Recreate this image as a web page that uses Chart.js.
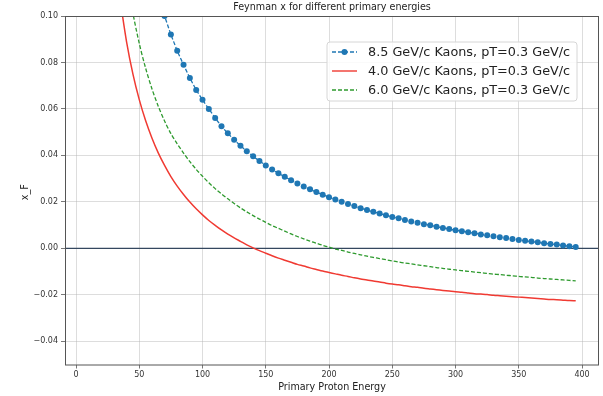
<!DOCTYPE html>
<html>
<head>
<meta charset="utf-8">
<script src="https://cdn.jsdelivr.net/npm/chart.js@4"></script>
<style>
  body { margin: 0; background: #fff; }
  canvas { display: block; }
</style>
</head>
<body>
<canvas id="grafica" width="603" height="396"></canvas>
<script>
// primary proton energy (GeV), shared by all three curves
const energias = [35, 40, 45, 50, 55, 60, 65, 70, 75, 80, 85, 90, 95, 100, 105, 110, 115, 120, 125, 130,
  135, 140, 145, 150, 155, 160, 165, 170, 175, 180, 185, 190, 195, 200, 205, 210, 215, 220, 225, 230,
  235, 240, 245, 250, 255, 260, 265, 270, 275, 280, 285, 290, 295, 300, 305, 310, 315, 320, 325, 330,
  335, 340, 345, 350, 355, 360, 365, 370, 375, 380, 385, 390, 395];

// x_F
const kaon85 = [0.200, 0.177, 0.157, 0.141, 0.128, 0.117, 0.108, 0.100, 0.092, 0.085, 0.079, 0.0733, 0.0682, 0.0639, 0.0600, 0.0561, 0.0525, 0.0495, 0.0467, 0.0442,
  0.0418, 0.0396, 0.0376, 0.0357, 0.0339, 0.0323, 0.0308, 0.0293, 0.0279, 0.0266, 0.0254, 0.0242, 0.0231, 0.0220, 0.0210, 0.0200, 0.0191, 0.0182, 0.0173, 0.0165,
  0.0157, 0.0150, 0.0142, 0.0135, 0.0129, 0.0122, 0.0116, 0.0110, 0.0104, 0.0099, 0.0093, 0.0088, 0.0083, 0.0078, 0.0074, 0.0069, 0.0065, 0.0060, 0.0056, 0.0052,
  0.0048, 0.0044, 0.0040, 0.0036, 0.0033, 0.0029, 0.0026, 0.0022, 0.0019, 0.0016, 0.0012, 0.0009, 0.0006];

const kaon40 = [0.1065, 0.0888, 0.0750, 0.0640, 0.0550, 0.0475, 0.0411, 0.0357, 0.0309, 0.0268, 0.0232, 0.0199, 0.0170, 0.0144, 0.0120, 0.0099, 0.0079, 0.0061, 0.0045, 0.0030,
  0.0015, 0.0002, -0.0010, -0.0021, -0.0032, -0.0042, -0.0051, -0.0060, -0.0069, -0.0076, -0.0084, -0.0091, -0.0098, -0.0104, -0.0110, -0.0116, -0.0121, -0.0127, -0.0132, -0.0136,
  -0.0141, -0.0145, -0.0150, -0.0154, -0.0157, -0.0161, -0.0165, -0.0168, -0.0172, -0.0175, -0.0178, -0.0181, -0.0184, -0.0187, -0.0189, -0.0192, -0.0195, -0.0197, -0.0199, -0.0202,
  -0.0204, -0.0206, -0.0208, -0.0210, -0.0212, -0.0214, -0.0216, -0.0218, -0.0220, -0.0221, -0.0223, -0.0225, -0.0226];

const kaon60 = [0.1383, 0.1175, 0.1012, 0.0882, 0.0776, 0.0687, 0.0612, 0.0548, 0.0494, 0.0450, 0.0410, 0.0373, 0.0340, 0.0310, 0.0282, 0.0257, 0.0234, 0.0213, 0.0193, 0.0174,
  0.0157, 0.0141, 0.0126, 0.0112, 0.0098, 0.0086, 0.0074, 0.0062, 0.0051, 0.0041, 0.0031, 0.0022, 0.0013, 0.0005, -0.0003, -0.0009, -0.0016, -0.0022, -0.0028, -0.0034,
  -0.0039, -0.0044, -0.0049, -0.0054, -0.0059, -0.0063, -0.0067, -0.0071, -0.0075, -0.0079, -0.0083, -0.0086, -0.0090, -0.0093, -0.0096, -0.0099, -0.0102, -0.0105, -0.0108, -0.0111,
  -0.0113, -0.0116, -0.0118, -0.0121, -0.0123, -0.0125, -0.0128, -0.0130, -0.0132, -0.0134, -0.0136, -0.0138, -0.0140];

const ticksX = [0, 50, 100, 150, 200, 250, 300, 350, 400];
const ticksY = [-0.04, -0.02, 0.00, 0.02, 0.04, 0.06, 0.08, 0.10];

const etiquetas = ['8.5 GeV/c Kaons, pT=0.3 GeV/c', '4.0 GeV/c Kaons, pT=0.3 GeV/c', '6.0 GeV/c Kaons, pT=0.3 GeV/c'];

const AZUL = '#1f77b4';
const ROJO = '#f03a32';
const VERDE = '#2e9a2e';

function puntos(serie) {
  return energias.map((e, i) => ({ x: e, y: serie[i] }));
}

// 🔹 marco, línea cero, títulos y leyenda
const extras = {
  id: 'extras',
  beforeDatasetsDraw(chart) {
    const { ctx, chartArea: a, scales } = chart;
    const y0 = scales.y.getPixelForValue(0);
    ctx.save();
    ctx.strokeStyle = '#34475f';
    ctx.lineWidth = 1.2;
    ctx.beginPath();
    ctx.moveTo(a.left, y0);
    ctx.lineTo(a.right, y0);
    ctx.stroke();
    ctx.restore();
  },
  afterDraw(chart) {
    const { ctx, chartArea: a } = chart;
    ctx.save();
    ctx.strokeStyle = '#555';
    ctx.lineWidth = 1;
    ctx.strokeRect(a.left + 0.5, a.top + 0.5, a.right - a.left - 1, a.bottom - a.top);

    ctx.fillStyle = '#222';
    ctx.textAlign = 'center';
    ctx.textBaseline = 'middle';
    ctx.font = '9.6px "DejaVu Sans"';
    ctx.fillText('Feynman x for different primary energies', (a.left + a.right) / 2, 7);
    ctx.fillText('Primary Proton Energy', (a.left + a.right) / 2, 387);

    ctx.save();
    ctx.translate(25, (a.top + a.bottom) / 2 + 2);
    ctx.rotate(-Math.PI / 2);
    ctx.fillText('x_F', 0, 0);
    ctx.restore();

    // leyenda
    const bx = 327, by = 42, bw = 250, bh = 59;
    ctx.beginPath();
    ctx.roundRect(bx, by, bw, bh, 3);
    ctx.fillStyle = 'rgba(255,255,255,0.85)';
    ctx.fill();
    ctx.strokeStyle = '#d6d6d6';
    ctx.stroke();

    const filas = [52, 71, 90];
    const estilos = [
      { color: AZUL, dash: [4, 2], punto: true },
      { color: ROJO, dash: [], punto: false },
      { color: VERDE, dash: [4, 2], punto: false }
    ];
    ctx.font = '12.8px "DejaVu Sans"';
    ctx.textAlign = 'left';
    filas.forEach((yy, i) => {
      const s = estilos[i];
      ctx.strokeStyle = s.color;
      ctx.lineWidth = 1.4;
      ctx.setLineDash(s.dash);
      ctx.beginPath();
      ctx.moveTo(332, yy);
      ctx.lineTo(357, yy);
      ctx.stroke();
      ctx.setLineDash([]);
      if (s.punto) {
        ctx.fillStyle = s.color;
        ctx.beginPath();
        ctx.arc(344.5, yy, 3, 0, Math.PI * 2);
        ctx.fill();
      }
      ctx.fillStyle = '#222';
      ctx.fillText(etiquetas[i], 368, yy + 1);
    });
    ctx.restore();
  }
};

const ctx = document.getElementById('grafica').getContext('2d');

const grafica = new Chart(ctx, {
  type: 'line',
  data: {
    datasets: [
      {
        label: etiquetas[0],
        data: puntos(kaon85),
        borderColor: AZUL,
        backgroundColor: AZUL,
        borderWidth: 1.3,
        borderDash: [4, 2],
        pointRadius: 3,
        pointBorderWidth: 0,
        pointBackgroundColor: AZUL
      },
      {
        label: etiquetas[1],
        data: puntos(kaon40),
        borderColor: ROJO,
        borderWidth: 1.5,
        pointRadius: 0,
        tension: 0.3
      },
      {
        label: etiquetas[2],
        data: puntos(kaon60),
        borderColor: VERDE,
        borderWidth: 1.3,
        borderDash: [4, 2],
        pointRadius: 0,
        tension: 0.3
      }
    ]
  },
  options: {
    responsive: false,
    animation: false,
    devicePixelRatio: 1,
    layout: { padding: { top: 16, right: 2, bottom: 0, left: 0 } },
    plugins: {
      legend: { display: false },
      title: { display: false },
      tooltip: { enabled: false }
    },
    scales: {
      x: {
        type: 'linear',
        min: -8.7,
        max: 413.4,
        afterBuildTicks: s => { s.ticks = ticksX.map(v => ({ value: v })); },
        afterFit: s => { s.height = 31.5; },
        grid: { color: 'rgba(176,176,176,0.55)', lineWidth: 0.8, tickLength: 4, tickColor: '#555' },
        border: { display: false },
        ticks: {
          color: '#333',
          padding: 1.5,
          maxRotation: 0,
          font: { family: 'DejaVu Sans', size: 8 },
          callback: v => String(v)
        }
      },
      y: {
        min: -0.05,
        max: 0.10,
        afterBuildTicks: s => { s.ticks = ticksY.map(v => ({ value: v })); },
        afterFit: s => { s.width = 65; },
        grid: { color: 'rgba(176,176,176,0.55)', lineWidth: 0.8, tickLength: 4, tickColor: '#555' },
        border: { display: false },
        ticks: {
          color: '#333',
          padding: 3,
          font: { family: 'DejaVu Sans', size: 8 },
          callback: v => (v < 0 ? '\u2212' : '') + Math.abs(v).toFixed(2)
        }
      }
    }
  },
  plugins: [extras]
});
</script>
</body>
</html>
